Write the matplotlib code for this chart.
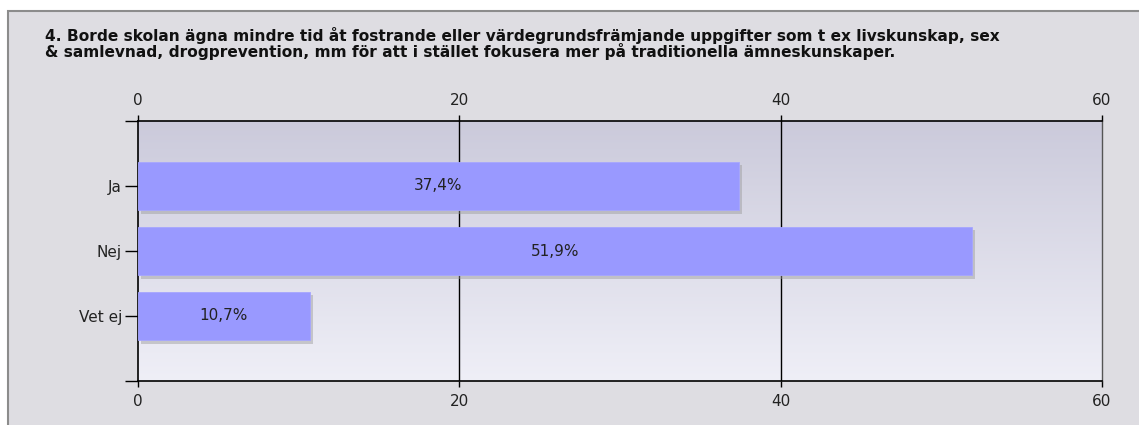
import numpy as np
import matplotlib.pyplot as plt
import matplotlib.patheffects as pe
from matplotlib.patches import Rectangle
from matplotlib.colors import LinearSegmentedColormap

title = ('4. Borde skolan ägna mindre tid åt fostrande eller värdegrundsfrämjande uppgifter som t ex livskunskap, sex\n'
         '& samlevnad, drogprevention, mm för att i stället fokusera mer på traditionella ämneskunskaper.')
categories = ['Ja', 'Nej', 'Vet ej']
values = [37.4, 51.9, 10.7]
labels = ['37,4%', '51,9%', '10,7%']
xticks = [0, 20, 40, 60]

W, H = 1139, 425
fig = plt.figure(figsize=(W / 100, H / 100), dpi=100)
fig.patch.set_facecolor('white')

# grey panel with border (left/top edges only visible)
fig.patches.append(Rectangle((8 / W, -0.1), 1.2, 1 - 11 / H + 0.1, transform=fig.transFigure,
                             facecolor='#dedde2', edgecolor='#8c8c8c', linewidth=1.5, zorder=-5))

fig.text(45 / W, 1 - 27 / H, title, fontsize=11.1, fontweight='bold', color='#111111',
         va='top', ha='left', linespacing=0.9, zorder=5)

ax = fig.add_axes([138 / W, 1 - 381 / H, (1102 - 138) / W, (381 - 121) / H])
ax.set_zorder(2)
ax.set_facecolor('none')

# gradient background of plot area
grad = np.linspace(0, 1, 256).reshape(-1, 1)
cmap = LinearSegmentedColormap.from_list('bg', ['#cbcadb', '#efeff7'])
ax.imshow(grad, aspect='auto', cmap=cmap, extent=[0, 60, 4, 0], zorder=0)

y = np.arange(1, len(categories) + 1)
bars = ax.barh(y, values, height=0.74, color='#9999ff', edgecolor='#a6a6ff', linewidth=0.6, zorder=3)
for b in bars:
    b.set_path_effects([pe.SimplePatchShadow(offset=(2.5, -2.5), shadow_rgbFace='#9a9a9a', alpha=0.45),
                        pe.Normal()])

for yi, v, lab in zip(y, values, labels):
    ax.text(v / 2, yi, lab, ha='center', va='center', fontsize=11, color='#222222', zorder=5)

ax.set_xlim(0, 60)
ax.set_ylim(4, 0)
ax.set_xticks(xticks)
ax.set_yticks([0, 1, 2, 3, 4])
ax.set_yticklabels([''] + categories + [''])
for x in xticks[1:-1]:
    ax.axvline(x, color='black', linewidth=1, zorder=2)

ax.tick_params(axis='x', which='both', top=True, labeltop=True, bottom=True, labelbottom=True,
               direction='out', length=4.5, width=1, labelsize=11, pad=5, colors='black')
ax.tick_params(axis='y', direction='out', length=9.5, width=1, labelsize=11, pad=2, colors='black')
for s in ['left', 'top', 'bottom']:
    ax.spines[s].set_linewidth(1.2)
    ax.spines[s].set_color('black')
ax.spines['right'].set_color('#555555')
ax.spines['right'].set_linewidth(1)
for t in ax.get_xticklabels() + ax.get_yticklabels():
    t.set_color('#222222')

fig.savefig('out.png', dpi=100)
